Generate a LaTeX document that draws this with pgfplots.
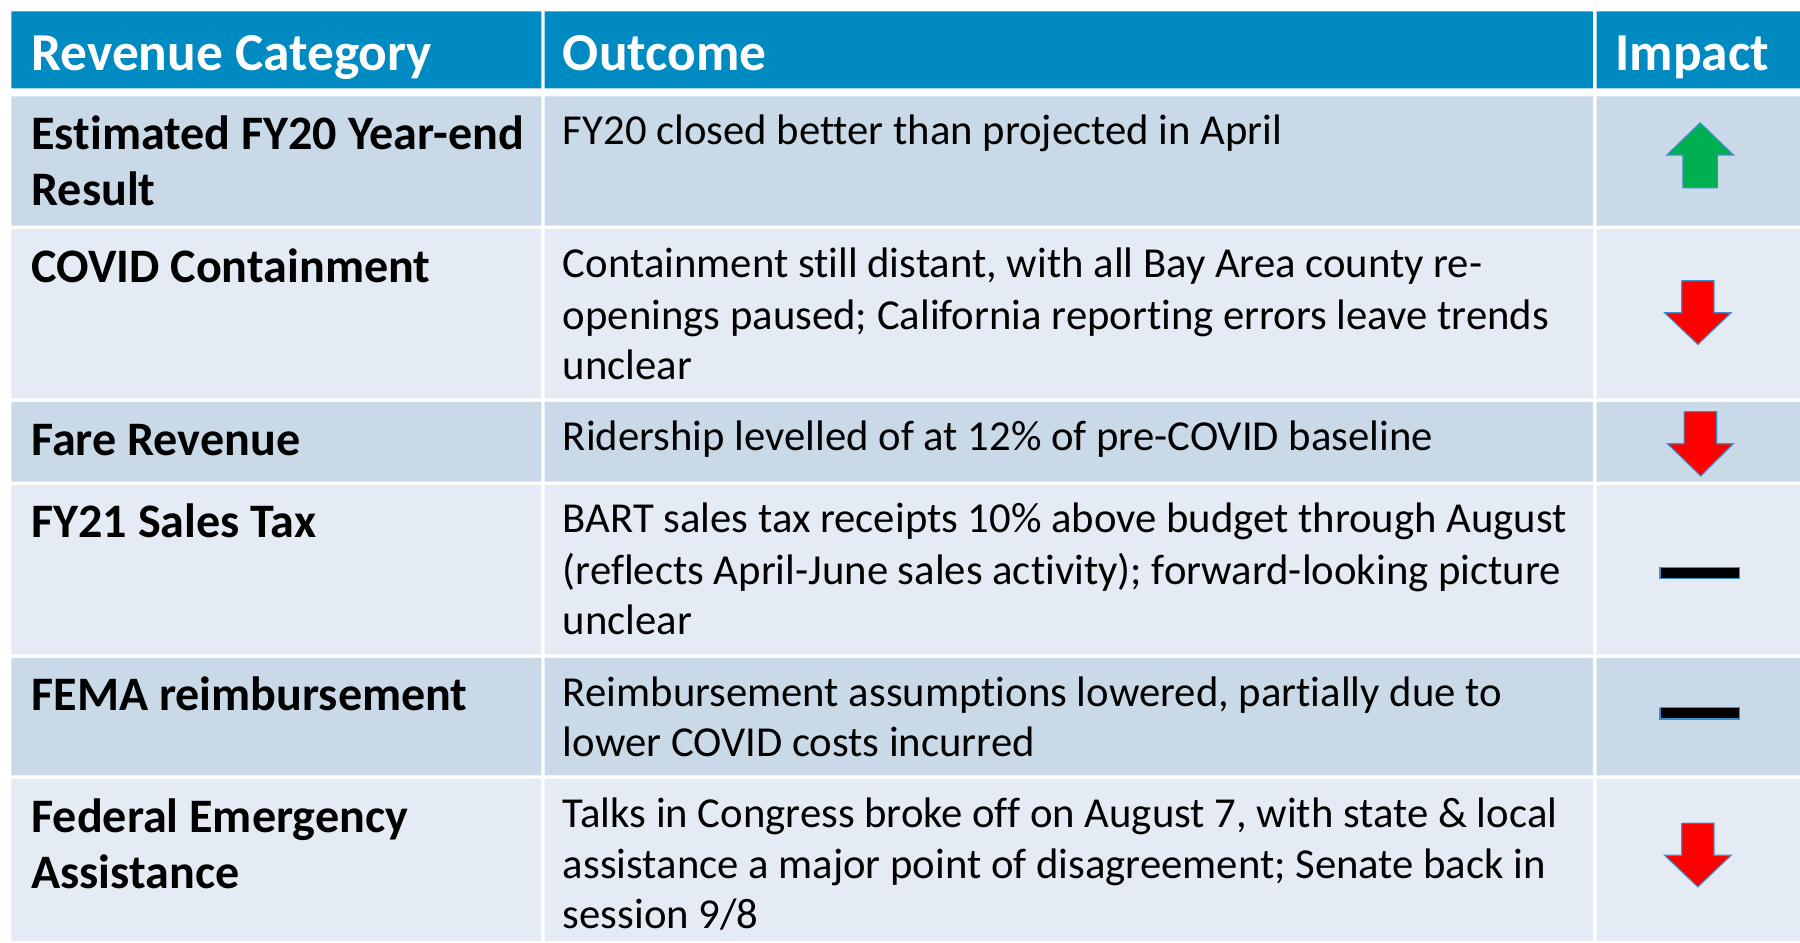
\documentclass[border=0pt]{standalone}
\usepackage{pgfplots}
\pgfplotsset{compat=1.18}
\usepackage{fontspec}
\setmainfont{Carlito}[Ligatures={NoCommon}]
\definecolor{hdr}{HTML}{008AC2}
\definecolor{rowdark}{HTML}{CAD9E8}
\definecolor{rowlight}{HTML}{E4EBF4}
\definecolor{upgreen}{HTML}{00B050}
\definecolor{downred}{HTML}{FF0000}
\definecolor{edge}{HTML}{3B8FD0}
\newcommand{\rowbox}[3]{\addplot[fill=#3, draw=none, forget plot] coordinates {(10,#1) (1568,#1) (1568,#2) (10,#2) (10,#1)};}
\newcommand{\hd}{\fontsize{23.25}{27}\selectfont\bfseries\color{white}}
\newcommand{\lc}{\fontsize{20.95}{25}\selectfont\bfseries}
\newcommand{\oc}{\fontsize{18.6}{22}\selectfont}
\begin{document}
\begin{tikzpicture}
\begin{axis}[
  width=784pt, height=410.5pt, scale only axis,
  xmin=0, xmax=1568, ymin=0, ymax=821, y dir=reverse,
  axis lines=none, clip=false, ticks=none,
]
% background
\addplot[fill=white, draw=none, forget plot] coordinates {(0,0) (1568,0) (1568,821) (0,821) (0,0)};
% rows
\rowbox{10}{77}{hdr}
\rowbox{84}{196.5}{rowdark}
\rowbox{199.5}{347}{rowlight}
\rowbox{350}{419.5}{rowdark}
\rowbox{422.5}{570}{rowlight}
\rowbox{573}{675.5}{rowdark}
\rowbox{678.5}{819.5}{rowlight}
% column separators
\addplot[fill=white, draw=none, forget plot] coordinates {(471.5,0) (474.5,0) (474.5,821) (471.5,821) (471.5,0)};
\addplot[fill=white, draw=none, forget plot] coordinates {(1387.8,0) (1390.8,0) (1390.8,821) (1387.8,821) (1387.8,0)};
% impact symbols
\addplot[fill=upgreen, draw=edge, line width=0.5pt, forget plot] coordinates {(1481,107) (1510,135) (1496,135) (1496,163.5) (1466,163.5) (1466,135) (1452,135) (1481,107)};
\addplot[fill=downred, draw=edge, line width=0.5pt, forget plot] coordinates {(1465,244.5) (1493,244.5) (1493,272.4) (1508,272.4) (1479,300) (1450,272.4) (1465,272.4) (1465,244.5)};
\addplot[fill=downred, draw=edge, line width=0.5pt, forget plot] coordinates {(1467,358.6) (1495.5,358.6) (1495.5,386.5) (1510,386.5) (1481.5,414.6) (1452.5,386.5) (1467,386.5) (1467,358.6)};
\addplot[fill=black, draw=edge, line width=0.5pt, forget plot] coordinates {(1446,494) (1515.6,494) (1515.6,504) (1446,504) (1446,494)};
\addplot[fill=black, draw=edge, line width=0.5pt, forget plot] coordinates {(1446,616.4) (1515.6,616.4) (1515.6,626.3) (1446,626.3) (1446,616.4)};
\addplot[fill=downred, draw=edge, line width=0.5pt, forget plot] coordinates {(1465,717) (1493,717) (1493,745) (1508,745) (1479,772.6) (1450,745) (1465,745) (1465,717)};
% header text
\node[anchor=base west, inner sep=0] at (axis cs:27,61) {\hd Revenue Category};
\node[anchor=base west, inner sep=0] at (axis cs:490,61) {\hd Outcome};
\node[anchor=base west, inner sep=0] at (axis cs:1407,61) {\hd Impact};
% left column
\node[anchor=base west, inner sep=0] at (axis cs:27,130) {\lc Estimated FY20 Year-end};
\node[anchor=base west, inner sep=0] at (axis cs:27,179) {\lc Result};
\node[anchor=base west, inner sep=0] at (axis cs:27,246) {\lc COVID Containment};
\node[anchor=base west, inner sep=0] at (axis cs:27,397) {\lc Fare Revenue};
\node[anchor=base west, inner sep=0] at (axis cs:27,468) {\lc FY21 Sales Tax};
\node[anchor=base west, inner sep=0] at (axis cs:27,619) {\lc FEMA reimbursement};
\node[anchor=base west, inner sep=0] at (axis cs:27,725) {\lc Federal Emergency};
\node[anchor=base west, inner sep=0] at (axis cs:27,774) {\lc Assistance};
% outcome column
\node[anchor=base west, inner sep=0] at (axis cs:490,126) {\oc FY20 closed better than projected in April};
\node[anchor=base west, inner sep=0] at (axis cs:490,242) {\oc Containment still distant, with all Bay Area county re-};
\node[anchor=base west, inner sep=0] at (axis cs:490,287) {\oc openings paused; California reporting errors leave trends};
\node[anchor=base west, inner sep=0] at (axis cs:490,331) {\oc unclear};
\node[anchor=base west, inner sep=0] at (axis cs:490,392) {\oc Ridership levelled of at 12\% of pre-COVID baseline};
\node[anchor=base west, inner sep=0] at (axis cs:490,464) {\oc BART sales tax receipts 10\% above budget through August};
\node[anchor=base west, inner sep=0] at (axis cs:490,509) {\oc (reflects April-June sales activity); forward-looking picture};
\node[anchor=base west, inner sep=0] at (axis cs:490,553) {\oc unclear};
\node[anchor=base west, inner sep=0] at (axis cs:490,615) {\oc Reimbursement assumptions lowered, partially due to};
\node[anchor=base west, inner sep=0] at (axis cs:490,659) {\oc lower COVID costs incurred};
\node[anchor=base west, inner sep=0] at (axis cs:490,721) {\oc Talks in Congress broke off on August 7, with state \& local};
\node[anchor=base west, inner sep=0] at (axis cs:490,765) {\oc assistance a major point of disagreement; Senate back in};
\node[anchor=base west, inner sep=0] at (axis cs:490,809) {\oc session 9/8};
\end{axis}
\end{tikzpicture}
\end{document}
